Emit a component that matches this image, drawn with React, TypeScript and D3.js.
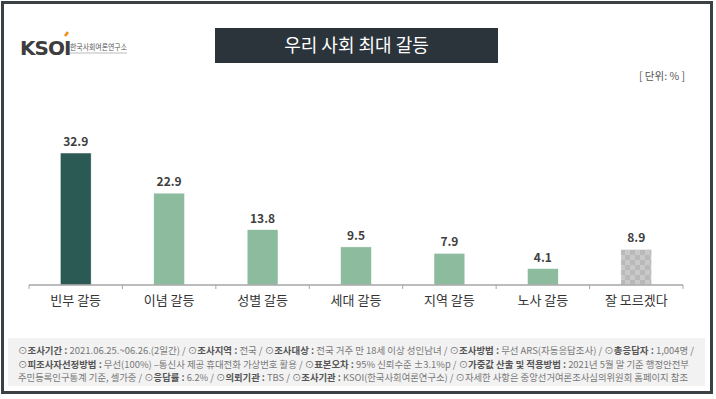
import React from "react";
import * as d3 from "d3";

const categories = ["빈부 갈등", "이념 갈등", "성별 갈등", "세대 갈등", "지역 갈등", "노사 갈등", "잘 모르겠다"];
const values = [32.9, 22.9, 13.8, 9.5, 7.9, 4.1, 8.9];
const barKinds = ["top", "base", "base", "base", "base", "base", "unknown"];

const title = "우리 사회 최대 갈등";
const unitLabel = "[ 단위: % ]";

// footer lines: [text, bold]
const footerLines: [string, boolean][][] = [
  [
    ["⊙", false], ["조사기간 : ", true], ["2021.06.25.~06.26.(2일간)  / ⊙", false],
    ["조사지역 : ", true], ["전국 / ⊙", false], ["조사대상 : ", true],
    ["전국 거주 만 18세 이상 성인남녀 / ⊙", false], ["조사방법 : ", true],
    ["무선 ARS(자동응답조사) / ⊙", false], ["총응답자 : ", true], ["1,004명 /", false],
  ],
  [
    ["⊙", false], ["피조사자선정방법 : ", true], ["무선(100%) –통신사 제공 휴대전화 가상번호 활용 / ⊙", false],
    ["표본오차 : ", true], ["95% 신뢰수준 ±3.1%p / ⊙", false], ["가중값 산출 및 적용방법 : ", true],
    ["2021년 5월 말 기준 행정안전부", false],
  ],
  [
    ["주민등록인구통계 기준, 셀가중 / ⊙", false], ["응답률 : ", true], ["6.2% / ⊙", false],
    ["의뢰기관 : ", true], ["TBS / ⊙", false], ["조사기관 : ", true],
    ["KSOI(한국사회여론연구소) / ⊙자세한 사항은 중앙선거여론조사심의위원회 홈페이지 참조", false],
  ],
];
const footerWidths = [676, 671, 670];

const colors: Record<string, string> = { top: "#2b5a54", base: "#8dbb9e" };
const font = "'Noto Sans CJK KR', 'Noto Sans', sans-serif";

export default function App() {
  const width = 716;
  const height = 399;
  const axisY = 285;

  const x = d3.scaleBand<string>()
    .domain(categories)
    .range([29, 683])
    .paddingInner(0.67)
    .paddingOuter(0.335);
  const band = d3.scaleBand<string>().domain(categories).range([29, 683]);
  const y = d3.scaleLinear().domain([0, 40]).range([axisY, axisY - 40 * 4.012]);

  return (
    <svg width={width} height={height} style={{ position: "absolute", left: 0, top: 0 }} fontFamily={font}>
      <defs>
        <pattern id="checker" width="10" height="10" patternUnits="userSpaceOnUse">
          <rect width="10" height="10" fill="#c9c9c9" />
          <rect width="5" height="5" fill="#b9b9b9" />
          <rect x="5" y="5" width="5" height="5" fill="#b9b9b9" />
        </pattern>
      </defs>
      <rect x={0} y={0} width={width} height={height} fill="#ffffff" />
      <rect x={2.5} y={2.5} width={709} height={390} fill="none" stroke="#3b4045" strokeWidth={3} />

      {/* logo */}
      <g>
        <text x={20} y={55} fontFamily="'DejaVu Sans', sans-serif" fontWeight="bold" fontSize={20} fill="#3d3d3d" letterSpacing={-1}>KSOI</text>
        <line x1={65} y1={36} x2={68} y2={32} stroke="#f08a1c" strokeWidth={2.5} />
        <text x={70} y={50} fontSize={7.5} fill="#555" textLength={57} lengthAdjust="spacingAndGlyphs">한국사회여론연구소</text>
        <line x1={70} y1={53} x2={127} y2={53} stroke="#bbb" strokeWidth={1} />
      </g>

      {/* title */}
      <rect x={215} y={28} width={283} height={35} fill="#2b333b" />
      <text x={356.5} y={52} textAnchor="middle" fontSize={18} fill="#ffffff">{title}</text>
      <text x={685} y={80} textAnchor="end" fontSize={10.5} fill="#555">{unitLabel}</text>

      {/* bars */}
      {categories.map((c, i) => {
        const v = values[i];
        const kind = barKinds[i];
        const bx = x(c)!;
        const bw = x.bandwidth();
        return (
          <g key={c}>
            <rect
              x={bx}
              y={y(v)}
              width={bw}
              height={axisY - y(v)}
              fill={kind === "unknown" ? "url(#checker)" : colors[kind]}
              stroke="#ffffff"
              strokeWidth={0.5}
            />
            <text x={bx + bw / 2} y={y(v) - 7} textAnchor="middle" fontSize={12} fontWeight="bold" fill="#404040">
              {v.toFixed(1)}
            </text>
            <text x={bx + bw / 2} y={305} textAnchor="middle" fontSize={13} fill="#333">
              {c}
            </text>
          </g>
        );
      })}

      {/* axis */}
      <line x1={29} x2={683} y1={axisY} y2={axisY} stroke="#a6a6a6" strokeWidth={1.5} />
      {[...categories.map((c) => band(c)!), 683].map((t, i) => (
        <line key={i} x1={t} x2={t} y1={axisY} y2={axisY + 4} stroke="#a6a6a6" strokeWidth={1} />
      ))}

      {/* footer */}
      <rect x={8} y={338} width={697} height={48} fill="#f2f2f2" />
      {footerLines.map((line, li) => (
        <text
          key={li}
          x={18}
          y={354 + li * 13.5}
          fontSize={9.5}
          fill="#666"
          textLength={footerWidths[li]}
          lengthAdjust="spacingAndGlyphs"
        >
          {line.map(([t, b], j) => (
            <tspan key={j} fontWeight={b ? "bold" : "normal"} fill={b ? "#555" : "#777"}>{t}</tspan>
          ))}
        </text>
      ))}
    </svg>
  );
}
